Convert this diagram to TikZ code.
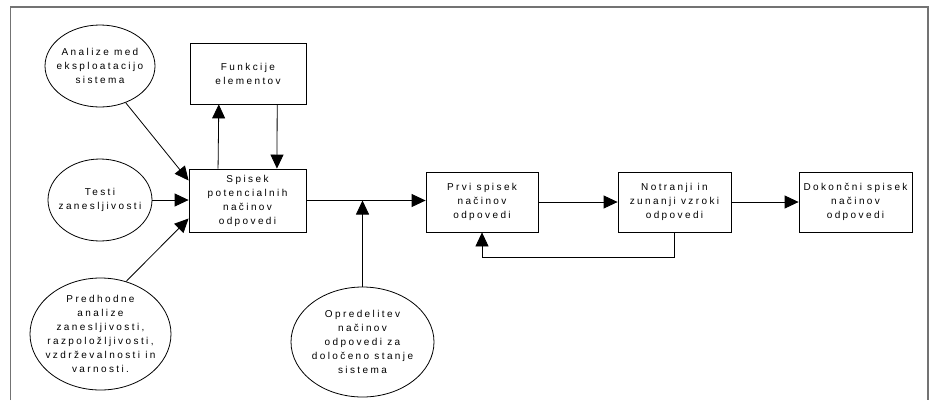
\documentclass[tikz,border=0pt]{standalone}
\usepackage{fontspec}
\setmainfont{Liberation Sans}[LetterSpace=24]
\usepackage{tikz}
\usetikzlibrary{arrows.meta, calc, shapes.geometric}

\tikzset{
  box/.style={draw, rectangle, line width=0.8pt, align=center, inner sep=1pt, font=\fontsize{10}{14}\selectfont},
  oval/.style={draw, ellipse, line width=0.8pt, align=center, inner sep=-12pt, font=\fontsize{10}{14}\selectfont},
  arr/.style={line width=0.8pt, -{Triangle[length=14pt,width=13pt]}},
}

\begin{document}
\begin{tikzpicture}[x=1pt,y=-1pt]
\useasboundingbox (0,0) rectangle (936,400);

% Draw frame (open at the bottom)
\draw[black!55, line width=1.6pt] (10.5,400) -- (10.5,7) -- (928,7) -- (928,400);

% Draw the sources on the left
\node[oval, minimum width=110pt, minimum height=82pt] (analize) at (100,66) {Analize med\\eksploatacijo\\sistema};
\node[oval, minimum width=104pt, minimum height=82pt] (testi) at (100,200) {Testi\\zanesljivosti};
\node[oval, minimum width=141pt, minimum height=112pt] (predhodne) at (100.5,334) {Predhodne\\analize\\zanesljivosti,\\razpoložljivosti,\\vzdrževalnosti in\\varnosti.};

% Draw boxes
\node[box, minimum width=116pt, minimum height=61pt] (funkcije) at (248,73.5) {Funkcije\\elementov};
\node[box, minimum width=117pt, minimum height=63pt] (spisek) at (247.5,200.5) {Spisek\\potencialnih\\načinov\\odpovedi};
\node[box, minimum width=112pt, minimum height=60pt] (prvi) at (482,202) {Prvi spisek\\načinov\\odpovedi};
\node[box, minimum width=113pt, minimum height=60pt] (notranji) at (674.5,202) {Notranji in\\zunanji vzroki\\odpovedi};
\node[box, minimum width=113pt, minimum height=60pt] (dokoncni) at (855.5,202) {Dokončni spisek\\načinov\\odpovedi};

% Draw bottom ellipse
\node[oval, minimum width=143pt, minimum height=110pt] (opredelitev) at (362.5,342) {Opredelitev\\načinov\\odpovedi za\\določeno stanje\\sistema};

% Draw inputs into the list
\draw[arr] (analize.-55) -- ([yshift=20pt]spisek.west);
\draw[arr] (testi.east) -- (testi.east -| spisek.west);
\draw[arr] (predhodne.64) -- ([yshift=-18pt]spisek.west);

% Draw loop with functions
\draw[arr] ($(spisek.north west)!0.25!(spisek.north east)$) -- ($(funkcije.south west)!0.25!(funkcije.south east)$);
\draw[arr] ($(funkcije.south west)!0.75!(funkcije.south east)$) -- ($(spisek.north west)!0.75!(spisek.north east)$);

% Draw main chain
\draw[arr] (spisek.east) -- (spisek.east -| prvi.west);
\coordinate (join) at (spisek.east -| opredelitev.north);
\draw[arr] (opredelitev.north) -- (join);
\draw[arr] (prvi) -- (notranji);
\draw[arr] (notranji) -- (dokoncni);
\draw[arr] (notranji.south) -- ++(0,25) -| (prvi.south);
\end{tikzpicture}
\end{document}
